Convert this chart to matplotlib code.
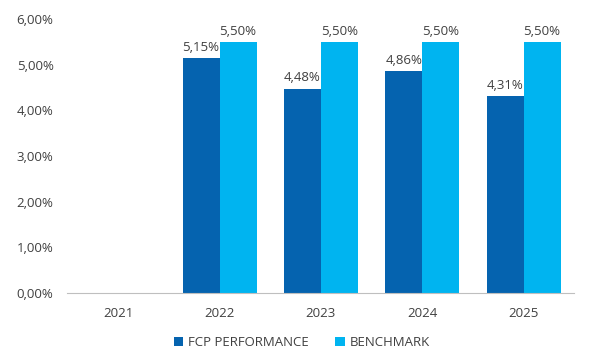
import matplotlib
matplotlib.use("Agg")
import matplotlib.pyplot as plt
import numpy as np
from matplotlib.ticker import FuncFormatter

years = ["2021", "2022", "2023", "2024", "2025"]
fcp = [np.nan, 5.15, 4.48, 4.86, 4.31]
bench = [np.nan, 5.50, 5.50, 5.50, 5.50]
yticks = [0, 1, 2, 3, 4, 5, 6]

plt.rcParams['font.family'] = ['Open Sans', 'DejaVu Sans']
dark = "#0563AF"
light = "#00B4F0"
tc = "#404040"

fig = plt.figure(figsize=(5.92, 3.61), dpi=100)
ax = fig.add_axes([0.114, 0.188, 0.856, 0.759])
x = np.arange(len(years))
w = 0.365
b1 = ax.bar(x - w/2, fcp, w, color=dark, label="FCP PERFORMANCE")
b2 = ax.bar(x + w/2, bench, w, color=light, label="BENCHMARK")

def fmt(v):
    return f"{v:.2f}".replace(".", ",") + "%"

for bars, vals in ((b1, fcp), (b2, bench)):
    for r, v in zip(bars, vals):
        if not np.isnan(v):
            ax.annotate(fmt(v), (r.get_x() + r.get_width()/2, v), xytext=(0, 3),
                        textcoords="offset points", ha="center", va="bottom",
                        fontsize=9.5, color=tc)

ax.set_xlim(-0.5, len(years) - 0.5)
ax.set_ylim(0, 6)
ax.set_yticks(yticks)
ax.yaxis.set_major_formatter(FuncFormatter(lambda v, p: fmt(v)))
ax.set_xticks(x)
ax.set_xticklabels(years)
for s in ["top", "right", "left"]:
    ax.spines[s].set_visible(False)
ax.spines["bottom"].set_color("#BFBFBF")
ax.tick_params(axis="both", length=0, labelsize=9.5, labelcolor=tc)
ax.tick_params(axis="x", pad=10)
ax.tick_params(axis="y", pad=10)

fig.legend(handles=[b1, b2], loc="lower center", bbox_to_anchor=(0.51, 0.0), ncol=2,
           frameon=False, fontsize=9.5, handlelength=0.7, handleheight=0.7,
           columnspacing=2.0, handletextpad=0.4, labelcolor=tc)

fig.savefig("out.png", dpi=100)
